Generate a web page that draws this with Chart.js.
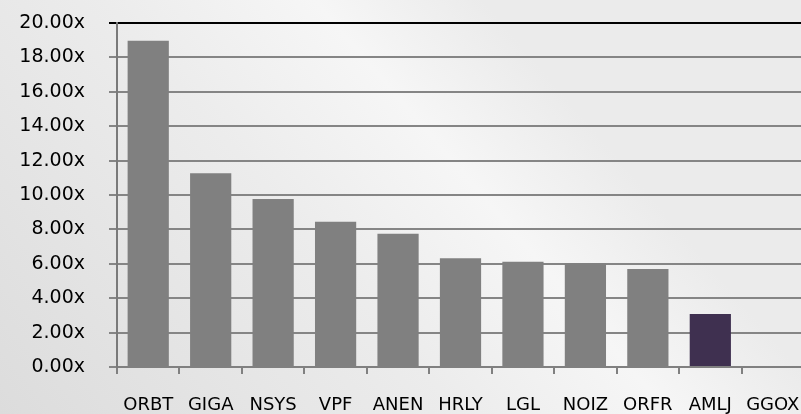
<!DOCTYPE html>
<html>
<head>
<meta charset="utf-8">
<script src="https://cdn.jsdelivr.net/npm/chart.js@4"></script>
<style>
  html, body { margin: 0; padding: 0; overflow: hidden; background: #e9e9e9; }
</style>
</head>
<body>
<canvas id="multiples" width="804" height="414"></canvas>
<script>
// tickers and their multiples
var tickers = ["ORBT", "GIGA", "NSYS", "VPF", "ANEN", "HRLY", "LGL", "NOIZ", "ORFR", "AMLJ", "GGOX"];
var multiples = [18.97, 11.26, 9.77, 8.45, 7.75, 6.32, 6.12, 6.03, 5.70, 3.08, null];
var highlight = "AMLJ";
var yTicks = [0, 2, 4, 6, 8, 10, 12, 14, 16, 18, 20];

var colors = tickers.map((t) => (t === highlight ? "#3f3050" : "#808080"));

// light grey paper-like backdrop
const background = {
    id: "background",
    beforeDraw(chart) {
        const ctx = chart.ctx;
        const g = ctx.createLinearGradient(0, chart.height, chart.width * 0.6, 0);
        g.addColorStop(0, "#dcdcdc");
        g.addColorStop(0.55, "#ececec");
        g.addColorStop(0.8, "#f6f6f6");
        g.addColorStop(1, "#ebebeb");
        ctx.save();
        ctx.fillStyle = g;
        ctx.fillRect(0, 0, chart.width, chart.height);
        ctx.restore();
    },
};

new Chart(document.getElementById("multiples"), {
    type: "bar",
    data: {
        labels: tickers,
        datasets: [
            {
                data: multiples,
                backgroundColor: colors,
                categoryPercentage: 1,
                barPercentage: 0.66,
            },
        ],
    },
    options: {
        responsive: false,
        animation: false,
        layout: { padding: { top: 23, left: 0, right: 0, bottom: 0 } },
        plugins: { legend: { display: false }, tooltip: { enabled: false } },
        scales: {
            x: {
                grid: { offset: true, drawOnChartArea: false, color: "#808080", tickLength: 7, lineWidth: 2 },
                border: { color: "#808080", width: 2 },
                ticks: { color: "#000", font: { family: "DejaVu Sans", size: 18 }, padding: 21, maxRotation: 0, autoSkip: false },
                afterFit(scale) {
                    scale.height = 47;
                    scale.paddingLeft = 0;
                    scale.paddingRight = 0;
                },
            },
            y: {
                min: 0,
                max: 20,
                afterBuildTicks(scale) { scale.ticks = yTicks.map((v) => ({ value: v })); },
                grid: {
                    color: (c) => (c.tick && c.tick.value === 20 ? "#000000" : "#858585"),
                    tickLength: 8,
                    lineWidth: 2,
                },
                border: { color: "#7a7a7a", width: 2 },
                ticks: {
                    color: "#000",
                    font: { family: "DejaVu Sans", size: 19 },
                    padding: 24,
                    callback: (v) => v.toFixed(2) + "x",
                },
                afterFit(scale) {
                    scale.width = 117;
                    scale.paddingTop = 0;
                    scale.paddingBottom = 0;
                },
            },
        },
    },
    plugins: [background],
});
</script>
</body>
</html>
